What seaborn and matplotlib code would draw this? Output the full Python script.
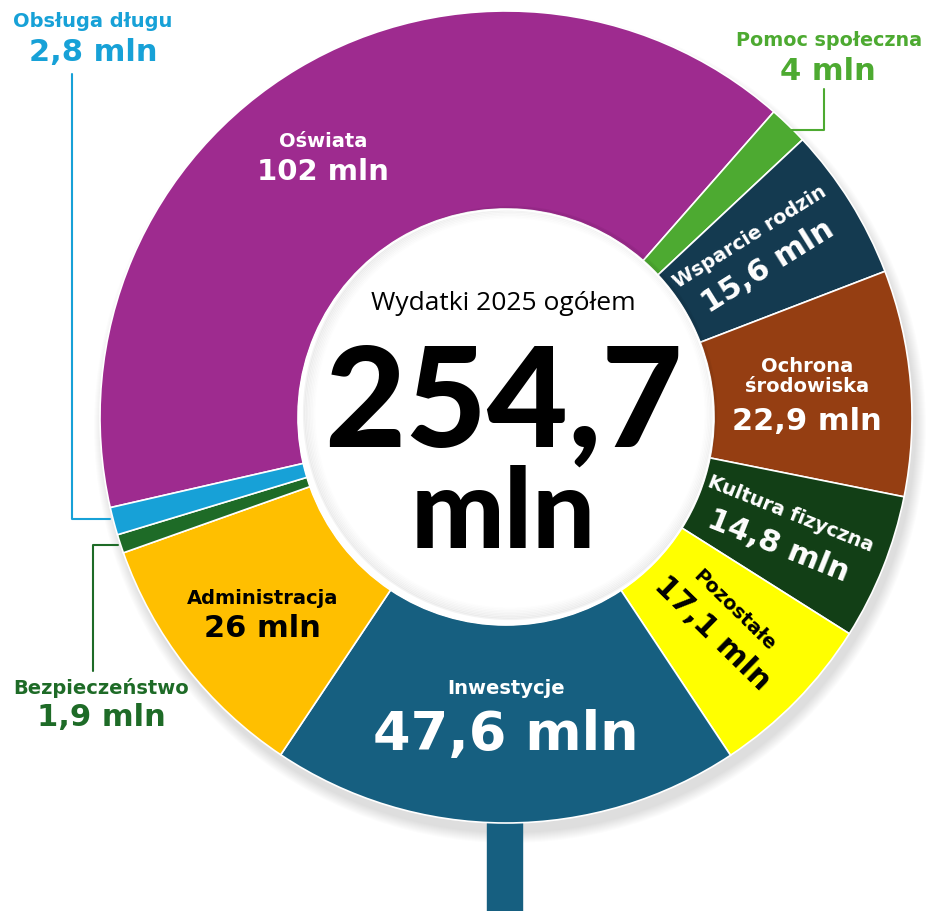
import numpy as np
import seaborn as sns
import matplotlib
matplotlib.use("Agg")
from matplotlib import pyplot as plt
from matplotlib.patches import Rectangle, Circle

# budget 2025, mln zł
categories = ["Oświata", "Pomoc społeczna", "Wsparcie rodzin", "Ochrona\nśrodowiska",
              "Kultura fizyczna", "Pozostałe", "Inwestycje", "Administracja",
              "Bezpieczeństwo", "Obsługa długu"]
values = [102, 4, 15.6, 22.9, 14.8, 17.1, 47.6, 26, 1.9, 2.8]
value_labels = ["102 mln", "4 mln", "15,6 mln", "22,9 mln", "14,8 mln", "17,1 mln",
                "47,6 mln", "26 mln", "1,9 mln", "2,8 mln"]
total_label = "254,7"

colors = ["#9E2B8F", "#4DAA31", "#143A50", "#953E12", "#123F16", "#FFFF00",
          "#165F80", "#FFBF00", "#1E6B27", "#17A1D7"]
text_colors = ["white", None, "white", "white", "white", "black", "white", "black", None, None]
radial = [False, False, True, False, True, True, False, False, False, False]

sns.set_style("white")
plt.rcParams["font.family"] = ["DejaVu Sans"]

W, H = 929, 912
fig = plt.figure(figsize=(W / 100, H / 100), dpi=100)
ax = fig.add_axes([0, 0, 1, 1])

cx, cy = 506, H - 418
R, r_in = 406, 208

# soft shadow (lower right)
for k in range(11):
    ax.add_patch(Circle((cx + 4, cy - 10), R + k * 1.0, color="black", alpha=0.012,
                        lw=0, zorder=0))
# stem under the ring
ax.add_patch(Rectangle((487, 0), 35, cy - 300, color=colors[6], zorder=0.2))

wedges, _ = ax.pie(values, colors=colors, startangle=192.9, counterclock=False,
                   radius=R, center=(cx, cy),
                   wedgeprops=dict(width=R - r_in, edgecolor="white", linewidth=1.2))
for w in wedges:
    w.set_zorder(1)
ax.add_patch(Circle((cx, cy), r_in - 0.6, color="white", zorder=1.1))
# faint inner shading
for k in range(8):
    ax.add_patch(Circle((cx + 4, cy + 4), r_in - 2 - k * 1.5, fill=False, lw=1.6,
                        edgecolor="black", alpha=0.006 * (8 - k), zorder=1.2))
ax.add_patch(Circle((cx, cy), r_in - 0.6, fill=False, lw=1.2, edgecolor="white", zorder=1.3))

ax.set_xlim(0, W)
ax.set_ylim(0, H)
ax.set_aspect("equal")
ax.axis("off")

# labels inside the ring
r_lab = 302
name_size = {0: 14, 2: 14, 3: 14, 4: 14, 5: 14, 6: 14, 7: 14}
val_size = {0: 21, 2: 22, 3: 22, 4: 22, 5: 22, 6: 39, 7: 22}
gap = {0: 15, 2: 17, 3: 0, 4: 17, 5: 16, 6: 23, 7: 15}
nudge = {0: (-28, 2), 2: (-3, 6), 3: (0, 0), 4: (-2, 0), 5: (1, 7), 6: (0, 8), 7: (-5, -10)}
for i, w in enumerate(wedges):
    if text_colors[i] is None:
        continue
    mid = np.deg2rad((w.theta1 + w.theta2) / 2)
    px = cx + r_lab * np.cos(mid) + nudge[i][0]
    py = cy + r_lab * np.sin(mid) + nudge[i][1]
    rot = np.rad2deg(mid) if radial[i] else 0
    ux, uy = -np.sin(np.deg2rad(rot)), np.cos(np.deg2rad(rot))
    d = gap[i]
    if i == 3:
        ax.text(px, py + 16, categories[i], ha="center", va="center",
                fontsize=name_size[i], fontweight="bold", color=text_colors[i],
                linespacing=1.1)
        ax.text(px, py - 29, value_labels[i], ha="center", va="center",
                fontsize=val_size[i], fontweight="bold", color=text_colors[i])
        continue
    ax.text(px + ux * d, py + uy * d, categories[i], rotation=rot, rotation_mode="anchor",
            ha="center", va="center", fontsize=name_size[i], fontweight="bold",
            color=text_colors[i])
    ax.text(px - ux * d, py - uy * d, value_labels[i],
            rotation=rot, rotation_mode="anchor", ha="center", va="center",
            fontsize=val_size[i], fontweight="bold", color=text_colors[i])

# outside labels with leader lines
ax.text(93, H - 21, categories[9], ha="center", va="center", fontsize=14,
        fontweight="bold", color=colors[9])
ax.text(93, H - 52, value_labels[9], ha="center", va="center", fontsize=22,
        fontweight="bold", color=colors[9])
ax.plot([72, 72, 110], [H - 75, H - 520, H - 520], color=colors[9], lw=1.5, zorder=0.5)

ax.text(829, H - 40, categories[1], ha="center", va="center", fontsize=13.8,
        fontweight="bold", color=colors[1])
ax.text(828, H - 71, value_labels[1], ha="center", va="center", fontsize=22,
        fontweight="bold", color=colors[1])
ax.plot([824, 824, 790], [H - 90, H - 131, H - 131], color=colors[1], lw=1.5, zorder=2)

ax.text(101, H - 688, categories[8], ha="center", va="center", fontsize=14,
        fontweight="bold", color=colors[8])
ax.text(101, H - 718, value_labels[8], ha="center", va="center", fontsize=22,
        fontweight="bold", color=colors[8])
ax.plot([93, 93, 118], [H - 672, H - 546, H - 546], color=colors[8], lw=1.5, zorder=0.5)

# centre
ax.text(503, H - 303, "Wydatki 2025 ogółem", ha="center", va="center", fontsize=19,
        color="black", family=["Open Sans", "DejaVu Sans"], zorder=3)
ax.text(503, H - 447, total_label, ha="center", va="baseline", fontsize=101,
        fontweight="black", color="black", family=["Lato", "DejaVu Sans"], zorder=3)
ax.text(503, H - 548, "mln", ha="center", va="baseline", fontsize=80,
        fontweight="black", color="black", family=["Lato", "DejaVu Sans"], zorder=3)

fig.savefig("out.png", dpi=100)
